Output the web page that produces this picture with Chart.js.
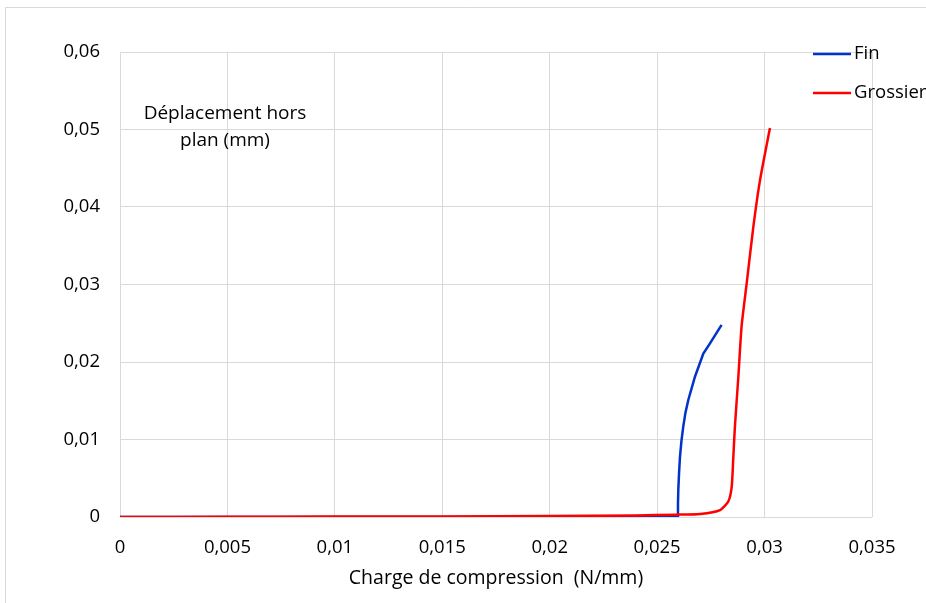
<!DOCTYPE html>
<html>
<head>
<meta charset="utf-8">
<script src="https://cdn.jsdelivr.net/npm/chart.js@4.4.1/dist/chart.umd.min.js"></script>
<style>
  html, body { margin: 0; padding: 0; background: #fff; }
  #wrap { width: 926px; height: 603px; position: relative; }
</style>
</head>
<body>
<div id="wrap"><canvas id="chart"></canvas></div>
<script>
// Donnees
const finX = [0, 0.02596, 0.02597, 0.025985, 0.02602, 0.026064, 0.02613, 0.026217, 0.02632, 0.02645, 0.02676, 0.02715, 0.02746, 0.0280];
const finY = [0, 0, 0.0017, 0.0035, 0.0057, 0.0078, 0.0098, 0.0117, 0.0135, 0.0151, 0.0181, 0.0211, 0.0224, 0.0248];

const grosX = [0, 0.005, 0.01, 0.015, 0.02, 0.024, 0.0259, 0.027, 0.02793, 0.02831, 0.02847, 0.02854, 0.02862, 0.02878, 0.02893, 0.02917, 0.02948, 0.02979, 0.03025];
const grosY = [0, 0.00002, 0.00005, 0.00008, 0.00013, 0.0002, 0.0003, 0.0004, 0.0009, 0.002, 0.0039, 0.0074, 0.0117, 0.0181, 0.0246, 0.0302, 0.0375, 0.0435, 0.0502];

const seriesNames = ["Fin", "Grossier"];
const seriesColors = ["#0033cc", "#ff0000"];
const yTitleLines = ["Déplacement hors", "plan (mm)"];
const xTitle = "Charge de compression  (N/mm)";

const FONT = "'Open Sans', sans-serif";

function toPoints(xs, ys) {
    return xs.map((x, i) => ({ x: x, y: ys[i] }));
}

function fmt(v) {
    return String(Number(v.toFixed(4))).replace(".", ",");
}

// cadre gris + texte + legende
const extras = {
    id: "extras",
    beforeDraw(chart) {
        const c = chart.ctx;
        c.save();
        c.strokeStyle = "#d9d9d9";
        c.lineWidth = 1;
        c.beginPath();
        c.moveTo(5.5, 603);
        c.lineTo(5.5, 7.5);
        c.lineTo(926, 7.5);
        c.stroke();
        c.restore();
    },
    afterDraw(chart) {
        const c = chart.ctx;
        c.save();
        c.fillStyle = "#000";
        c.font = "19px " + FONT;
        c.textAlign = "center";
        c.textBaseline = "middle";
        c.fillText(yTitleLines[0], 225, 114);
        c.fillText(yTitleLines[1], 225, 141);

        c.textAlign = "left";
        c.font = "18.5px " + FONT;
        seriesNames.forEach((name, i) => {
            const y = 54 + i * 39;
            c.strokeStyle = seriesColors[i];
            c.lineWidth = 2.5;
            c.beginPath();
            c.moveTo(813, y);
            c.lineTo(851, y);
            c.stroke();
            c.fillText(name, 854, y);
        });
        c.restore();
    }
};

new Chart(document.getElementById("chart"), {
    type: "scatter",
    data: {
        datasets: [
            {
                label: seriesNames[0],
                data: toPoints(finX, finY),
                borderColor: seriesColors[0],
                borderWidth: 2.5,
                showLine: true,
                pointRadius: 0,
                tension: 0,
                order: 2,
            },
            {
                label: seriesNames[1],
                data: toPoints(grosX, grosY),
                borderColor: seriesColors[1],
                borderWidth: 2.5,
                showLine: true,
                pointRadius: 0,
                tension: 0.2,
                order: 1,
            },
        ],
    },
    options: {
        responsive: true,
        maintainAspectRatio: false,
        animation: false,
        layout: { padding: { left: 0, right: 54, top: 52, bottom: 9 } },
        plugins: { legend: { display: false }, tooltip: { enabled: false } },
        scales: {
            x: {
                type: "linear",
                min: 0,
                max: 0.035,
                ticks: {
                    stepSize: 0.005,
                    padding: 20,
                    color: "#000",
                    font: { family: FONT, size: 18.5 },
                    callback: (v) => fmt(v),
                },
                grid: { color: "#d9d9d9", drawTicks: false },
                border: { display: false },
                title: {
                    display: true,
                    text: xTitle,
                    color: "#000",
                    font: { family: FONT, size: 19.5 },
                    padding: { top: 4 },
                },
                afterFit: (s) => { s.height = 77; },
            },
            y: {
                min: 0,
                max: 0.06,
                ticks: {
                    stepSize: 0.01,
                    padding: 20,
                    color: "#000",
                    font: { family: FONT, size: 18.5 },
                    callback: (v) => fmt(v),
                },
                grid: { color: "#d9d9d9", drawTicks: false },
                border: { display: false },
                afterFit: (s) => { s.width = 120; },
            },
        },
    },
    plugins: [extras],
});
</script>
</body>
</html>
